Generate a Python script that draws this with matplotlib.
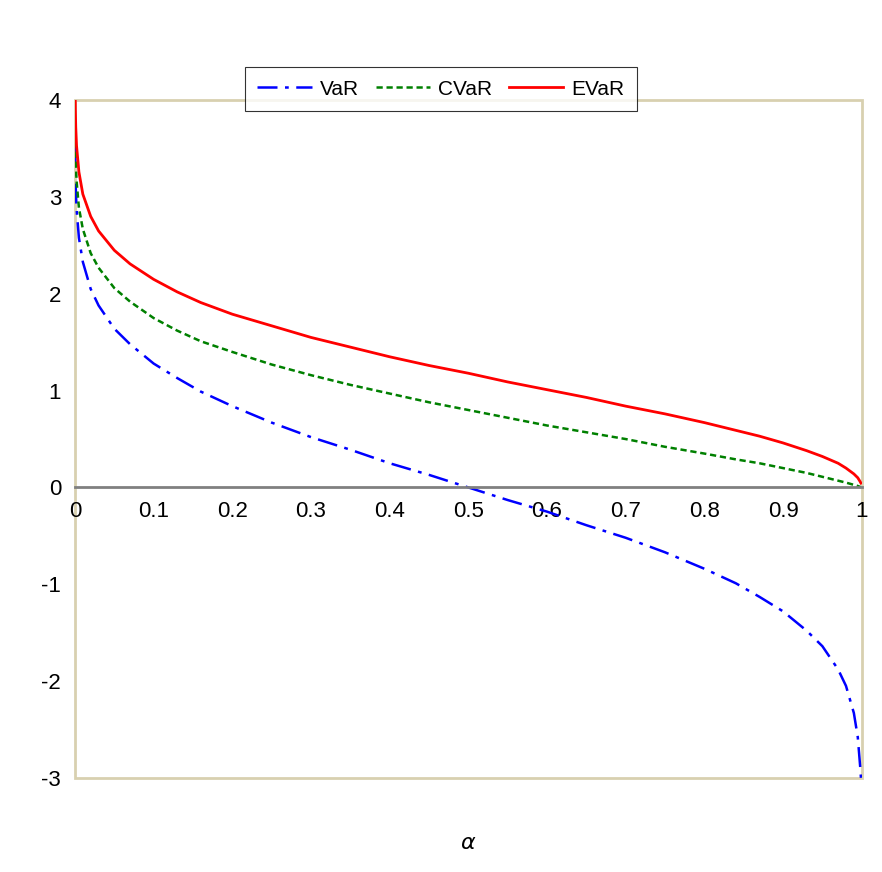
import matplotlib.pyplot as plt
import numpy as np

plt.rcParams['font.family'] = ['Liberation Sans', 'DejaVu Sans']
plt.rcParams['axes.unicode_minus'] = False

alpha = [0.0002, 0.0005, 0.001, 0.002, 0.005, 0.01, 0.02, 0.03, 0.05, 0.07, 0.1, 0.13, 0.16, 0.2, 0.25, 0.3, 0.35, 0.4, 0.45, 0.5,
         0.55, 0.6, 0.65, 0.7, 0.75, 0.8, 0.84, 0.87, 0.9, 0.93, 0.95, 0.97, 0.98, 0.99, 0.995, 0.998, 0.999]
var = [3.54, 3.29, 3.09, 2.88, 2.58, 2.33, 2.05, 1.88, 1.64, 1.48, 1.28, 1.13, 0.99, 0.84, 0.67, 0.52, 0.39, 0.25, 0.13, 0.0,
       -0.13, -0.25, -0.39, -0.52, -0.67, -0.84, -0.99, -1.13, -1.28, -1.48, -1.64, -1.88, -2.05, -2.33, -2.58, -2.88, -3.0]
cvar = [3.78, 3.55, 3.37, 3.17, 2.89, 2.67, 2.42, 2.27, 2.06, 1.92, 1.75, 1.62, 1.51, 1.40, 1.27, 1.16, 1.06, 0.97, 0.88, 0.80,
        0.72, 0.64, 0.57, 0.50, 0.42, 0.35, 0.29, 0.25, 0.20, 0.15, 0.11, 0.07, 0.05, 0.027, 0.015, 0.006, 0.003]
evar = [4.13, 3.90, 3.72, 3.53, 3.26, 3.03, 2.80, 2.65, 2.45, 2.31, 2.15, 2.02, 1.91, 1.79, 1.67, 1.55, 1.45, 1.35, 1.26, 1.18,
        1.09, 1.01, 0.93, 0.84, 0.76, 0.67, 0.59, 0.53, 0.46, 0.38, 0.32, 0.25, 0.20, 0.14, 0.10, 0.06, 0.045]

fig = plt.figure(figsize=(8.82, 8.72), dpi=100)
ax = fig.add_axes([0.085, 0.108, 0.892, 0.777])

ax.plot(alpha, var, color='blue', ls=(0, (8, 3, 1.5, 3)), lw=1.8, label='VaR')
ax.plot(alpha, cvar, color='green', ls=(0, (2.5, 1.5)), lw=1.8, label='CVaR')
ax.plot(alpha, evar, color='red', lw=2, label='EVaR')

ax.set_xlim(0, 1)
ax.set_ylim(-3, 4)
ax.set_xticks(np.arange(0, 1.01, 0.1))
ax.set_xticklabels(['0', '0.1', '0.2', '0.3', '0.4', '0.5', '0.6', '0.7', '0.8', '0.9', '1'])
ax.set_yticks(range(-3, 5))
ax.tick_params(labelsize=16, length=0, pad=10)

ax.spines['bottom'].set_position(('data', 0))
ax.spines['bottom'].set_color('#808080')
ax.spines['bottom'].set_linewidth(2)
ax.spines['left'].set_visible(False)
ax.spines['top'].set_visible(False)
ax.spines['right'].set_visible(False)
ax.patch.set_edgecolor('#d8d0b0')
ax.patch.set_linewidth(2)

ax.set_xlabel(r'$\alpha$', fontsize=16, family='DejaVu Serif', labelpad=0)
ax.xaxis.set_label_coords(0.5, -0.08)

leg = fig.legend(loc='upper center', bbox_to_anchor=(0.5, 0.935), ncol=3, fontsize=15,
                 frameon=True, fancybox=False, edgecolor='black', handlelength=2.6,
                 columnspacing=0.8, handletextpad=0.4, borderpad=0.6)
leg.get_frame().set_linewidth(0.8)

fig.savefig('out.png')
